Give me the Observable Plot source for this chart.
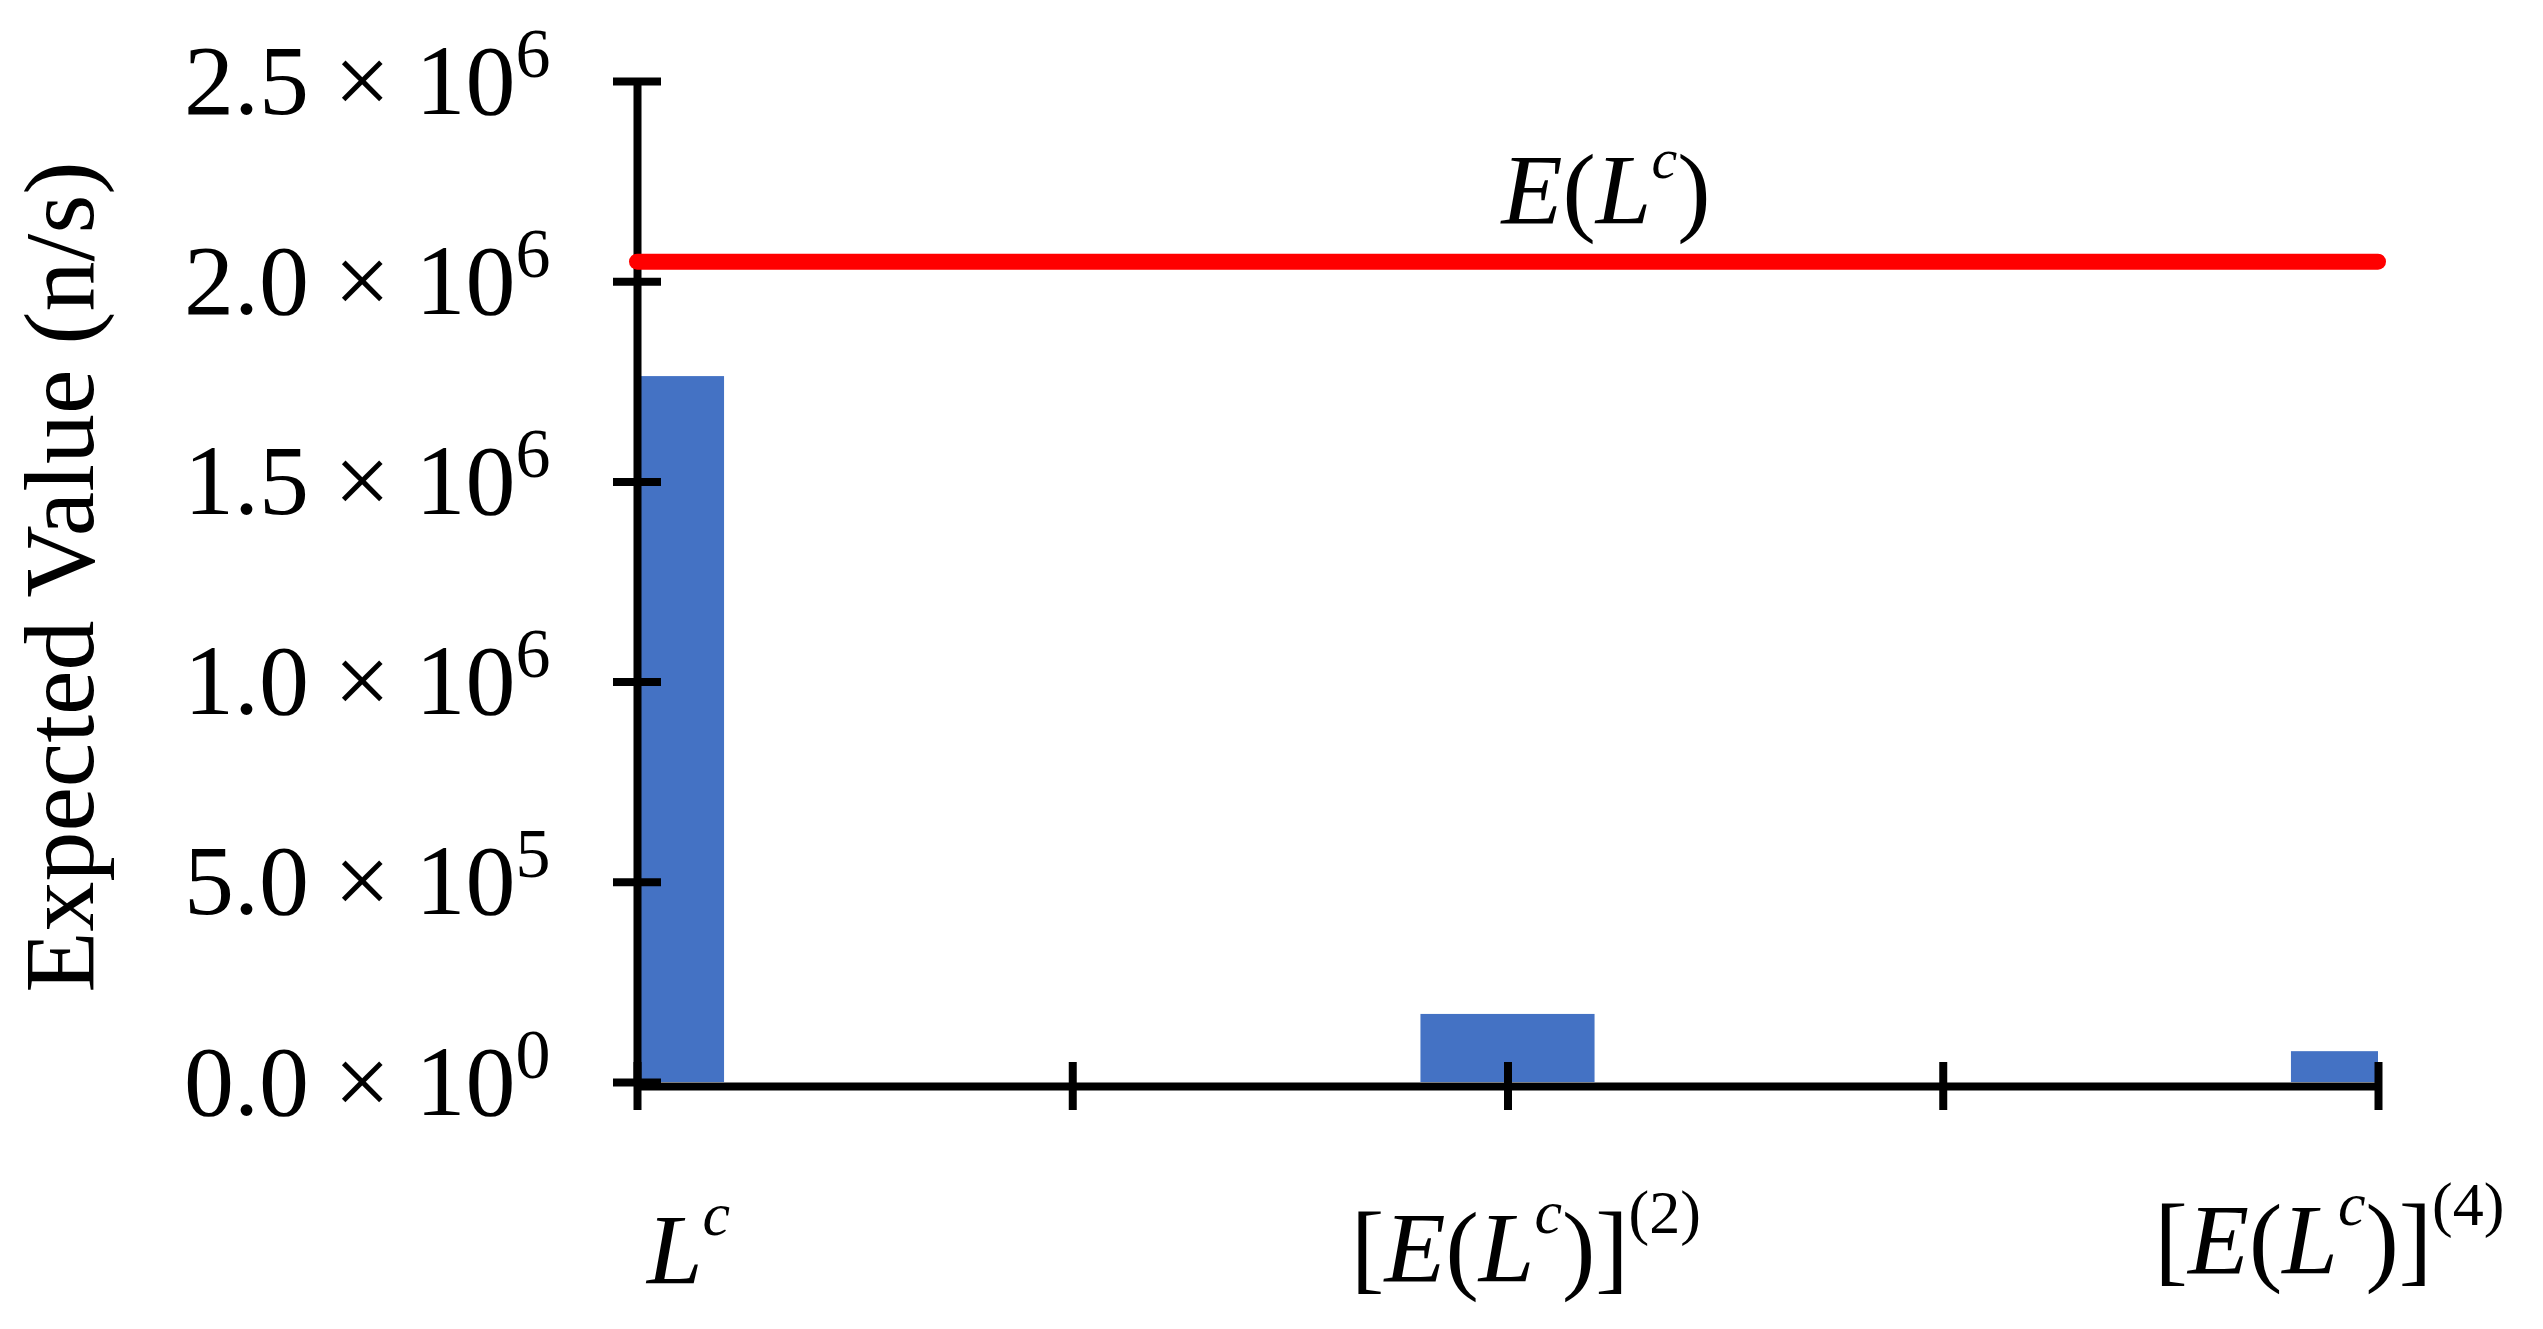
<!DOCTYPE html>
<html><head><meta charset="utf-8">
<script src="https://cdn.jsdelivr.net/npm/d3@7"></script>
<script src="https://cdn.jsdelivr.net/npm/@observablehq/plot@0.6"></script>
<style>html,body{margin:0;padding:0;background:#fff;} #chart svg{display:block;}</style>
</head><body><div id="chart"></div>
<script>
// ---- data ----
const categories = ["L^{c}", "[E(L^{c})]^{(2)}", "[E(L^{c})]^{(4)}"];
const categorySlots = [0, 2, 4];
const values = [1763000, 170000, 77000];
const referenceLabel = "E(L^{c})";
const referenceValue = 2050000;
const yTickValues = [0, 500000, 1000000, 1500000, 2000000, 2500000];
const yTickLabels = ["0.0 × 10^{0}", "5.0 × 10^{5}", "1.0 × 10^{6}", "1.5 × 10^{6}", "2.0 × 10^{6}", "2.5 × 10^{6}"];
const xTickValues = [0, 1, 2, 3, 4];
const yLabel = "Expected Value (n/s)";

// ---- tables ----
const bars = categories.map((c, i) => ({category: c, slot: categorySlots[i], value: values[i]}));
const yTicks = yTickValues.map((v, i) => ({v, label: yTickLabels[i]}));
const xMax = xTickValues[xTickValues.length - 1];
const yMax = yTickValues[yTickValues.length - 1];
const halfWidth = 0.2;
const labelNudge = [{dx: 51, dy: 200}, {dx: 18, dy: 198}, {dx: -49, dy: 190}];

const chart = Plot.plot({
  width: 2543, height: 1329,
  marginLeft: 637, marginRight: 165, marginTop: 81, marginBottom: 247,
  style: {fontFamily: "'Liberation Serif', 'Times New Roman', serif", fontSize: "100px", background: "#fff", color: "#000"},
  x: {type: "linear", domain: [0, xMax], axis: null},
  y: {domain: [0, yMax], axis: null},
  marks: [
    Plot.rectY(bars, {x1: d => d.slot - halfWidth, x2: d => d.slot + halfWidth, y: "value", fill: "#4472C4", clip: true}),
    Plot.ruleX([0], {y1: 0, y2: yMax, stroke: "#000", strokeWidth: 8}),
    Plot.ruleY([0], {x1: 0, x2: xMax, stroke: "#000", strokeWidth: 8, dy: 4}),
    Plot.ruleY(yTickValues, {y: d => d, x1: 0, x2: 0, insetLeft: -24, insetRight: -24, stroke: "#000", strokeWidth: 8}),
    Plot.ruleX(xTickValues, {x: d => d, y1: 0, y2: 0, insetTop: -24, insetBottom: -24, stroke: "#000", strokeWidth: 8, dy: 4}),
    Plot.text(yTicks, {y: "v", text: "label", frameAnchor: "left", dx: -87, textAnchor: "end", lineAnchor: "middle", fill: "#000"}),
    ...bars.map((b, i) => Plot.text([b], {x: "slot", y: 0, text: "category", dx: labelNudge[i].dx, dy: labelNudge[i].dy, lineAnchor: "bottom", textAnchor: "middle", fill: "#000"})),
    Plot.text([yLabel], {frameAnchor: "left", rotate: -90, dx: -545, dy: -5, lineAnchor: "bottom", textAnchor: "middle", fill: "#000"}),
    Plot.ruleY([referenceValue], {x1: 0, x2: xMax, stroke: "#FF0000", strokeWidth: 16, strokeLinecap: "round"}),
    Plot.text([referenceLabel], {x: 2, y: referenceValue, dx: 98, dy: -39, lineAnchor: "bottom", textAnchor: "middle", fill: "#000"})
  ]
});
document.getElementById("chart").appendChild(chart);

// ---- math-style rendering of labels (italic variables, superscripts) ----
function parseRuns(s) {
  const runs = [];
  let i = 0;
  const push = (ch, sup) => {
    const italic = /[A-Za-z]/.test(ch);
    const last = runs[runs.length - 1];
    if (last && last.italic === italic && last.sup === sup) last.text += ch;
    else runs.push({text: ch, italic, sup});
  };
  while (i < s.length) {
    if (s[i] === "^" && s[i + 1] === "{") {
      const end = s.indexOf("}", i + 2);
      for (const ch of s.slice(i + 2, end)) push(ch, true);
      i = end + 1;
    } else { push(s[i], false); i++; }
  }
  return runs;
}
function richify(el, supSize, raise) {
  const runs = parseRuns(el.textContent);
  el.textContent = "";
  let inSup = false;
  for (const r of runs) {
    const t = document.createElementNS("http://www.w3.org/2000/svg", "tspan");
    t.textContent = r.text;
    if (r.italic) t.setAttribute("font-style", "italic");
    if (r.sup) t.setAttribute("font-size", supSize + "px");
    if (r.sup && !inSup) t.setAttribute("dy", -raise);
    if (!r.sup && inSup) t.setAttribute("dy", raise);
    inSup = r.sup;
    el.appendChild(t);
  }
}
d3.select(chart).selectAll("text").each(function () {
  const s = this.textContent;
  if (!s.includes("^{")) return;
  if (s.includes("×")) richify(this, 70, 37);
  else if (s === referenceLabel) richify(this, 58, 45);
  else richify(this, 62, 48);
});
</script>
</body></html>
